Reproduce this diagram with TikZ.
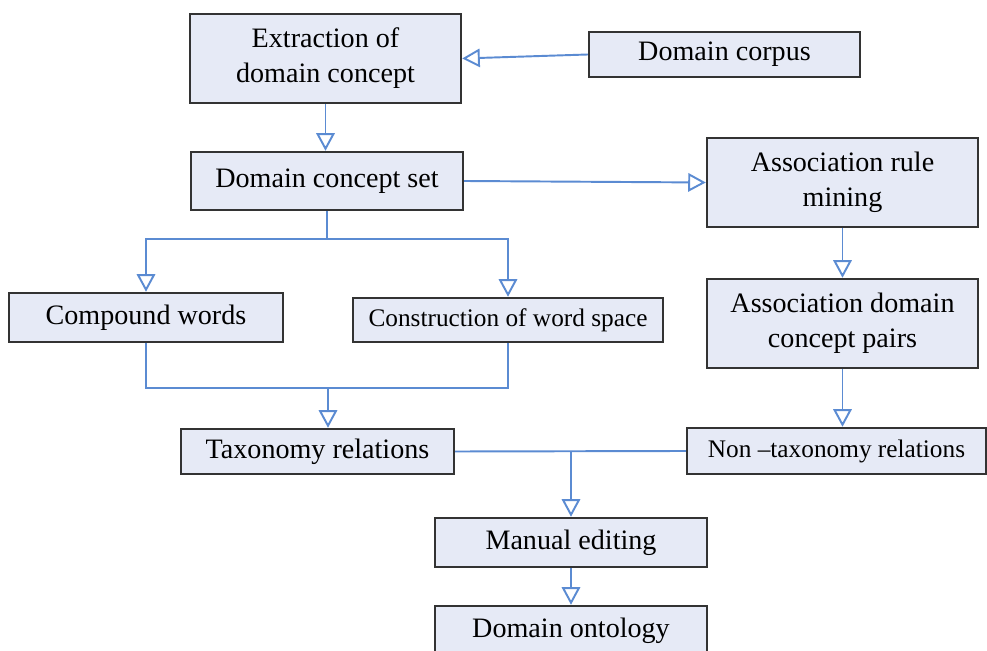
\documentclass[tikz,border=0pt]{standalone}
\usepackage{fontspec}
\setmainfont{Liberation Serif}
\usepackage{xcolor}
\definecolor{BoxFill}{HTML}{E6EAF6}
\definecolor{BoxBorder}{HTML}{333333}
\definecolor{FlowBlue}{HTML}{5B8BD2}
\usepackage{tikz}
\usetikzlibrary{arrows.meta, calc}

\begin{document}
\begin{tikzpicture}[
  x=0.02cm, y=-0.02cm,
  procbox/.style={
    rectangle,
    draw=BoxBorder,
    fill=BoxFill,
    line width=1.4pt,
    align=center,
    inner sep=2pt,
    font=\fontsize{16}{20}\selectfont},
  smalltext/.style={
    font=\fontsize{14.4}{18}\selectfont},
  flow/.style={
    draw=FlowBlue,
    line width=1.1pt,
    -{Triangle[open, length=10pt, width=10.5pt]}},
  link/.style={
    draw=FlowBlue,
    line width=1.1pt},
]

\useasboundingbox (0,0) rectangle (987,651);

% upper part
\node[procbox, minimum width=5.42cm, minimum height=1.78cm] (extract)
  at (325.5,58.5) {Extraction of\\domain concept};

\node[procbox, minimum width=5.42cm, minimum height=0.9cm] (corpus)
  at (724.5,54.5) {Domain corpus};

\node[procbox, minimum width=5.44cm, minimum height=1.16cm] (conceptset)
  at (327,181) {Domain concept set};

\node[procbox, minimum width=5.42cm, minimum height=1.78cm] (rulemining)
  at (842.5,182.5) {Association rule\\mining};

% middle part
\node[procbox, minimum width=5.48cm, minimum height=0.98cm] (compound)
  at (146,317.5) {Compound words};

\node[procbox, smalltext, minimum width=6.2cm, minimum height=0.88cm] (wordspace)
  at (508,320) {Construction of word space};

\node[procbox, minimum width=5.42cm, minimum height=1.78cm] (conceptpairs)
  at (842.5,323.5) {Association domain\\concept pairs};

\node[procbox, minimum width=5.46cm, minimum height=0.9cm] (taxonomy)
  at (317.5,451.5) {Taxonomy relations};

\node[procbox, smalltext, minimum width=5.98cm, minimum height=0.92cm] (nontaxonomy)
  at (836.5,451) {Non --taxonomy relations};

% lower part
\node[procbox, minimum width=5.44cm, minimum height=0.98cm] (manual)
  at (571,542.5) {Manual editing};

\node[procbox, minimum width=5.44cm, minimum height=0.98cm] (ontology)
  at (571,630.5) {Domain ontology};

% junction points
\coordinate (split) at (327,239);
\coordinate (merge) at (328,388);
\coordinate (join)  at (571,451);

% connectors
\draw[flow] (corpus.west) -- (extract.east);
\draw[flow] (extract.south) -- (extract.south |- conceptset.north);
\draw[flow] (conceptset.east) -- (rulemining.west);
\draw[flow] (rulemining.south) -- (conceptpairs.north);
\draw[flow] (conceptpairs.south) -- (conceptpairs.south |- nontaxonomy.north);

\draw[link] (conceptset.south) -- (split);
\draw[flow] (split) -| (compound.north);
\draw[flow] (split) -| (wordspace.north);

\draw[link] (compound.south) |- (merge) -| (wordspace.south);
\draw[flow] (merge) -- (merge |- taxonomy.north);

\draw[link] (taxonomy.east) -- (nontaxonomy.west);
\draw[flow] (join) -- (manual.north);
\draw[flow] (manual.south) -- (ontology.north);

\end{tikzpicture}
\end{document}
